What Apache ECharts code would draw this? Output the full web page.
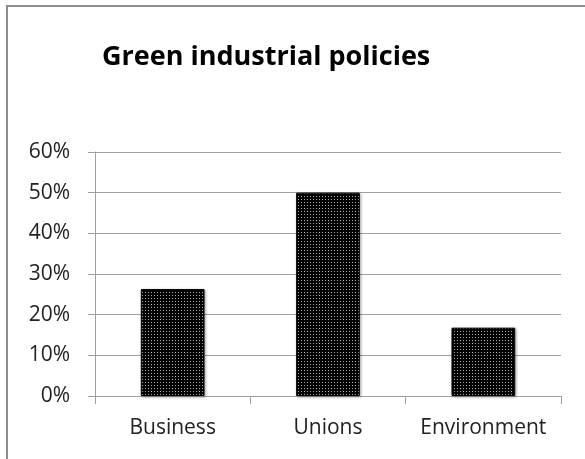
<!DOCTYPE html>
<html>
<head>
<meta charset="utf-8">
<script src="https://cdn.jsdelivr.net/npm/echarts@6/dist/echarts.min.js"></script>
<style>html,body{margin:0;padding:0;background:#fff}#c{width:585px;height:459px}</style>
</head>
<body>
<div id="c"></div>
<script>
const categories = ['Business', 'Unions', 'Environment'];
const values = [0.263, 0.50, 0.168];
const yTicks = [0, 0.1, 0.2, 0.3, 0.4, 0.5, 0.6];

function makePattern() {
  const c = document.createElement('canvas');
  c.width = 3; c.height = 3;
  const g = c.getContext('2d');
  g.fillStyle = '#000';
  g.fillRect(0, 0, 3, 3);
  g.fillStyle = '#b0b0b0';
  g.fillRect(1, 1, 1, 1);
  return c;
}

const chart = echarts.init(document.getElementById('c'), null, {renderer: 'canvas'});
chart.setOption({
  animation: false,
  title: {
    text: 'Green industrial policies',
    left: 97,
    top: 39,
    textStyle: {fontFamily: 'Open Sans', fontWeight: 'bold', fontSize: 27, color: '#000'}
  },
  graphic: [{
    type: 'rect',
    shape: {x: 7, y: 6, width: 800, height: 800},
    style: {fill: 'none', stroke: '#8c8c8c', lineWidth: 2}
  }],
  grid: {left: 95, right: 24, top: 152, bottom: 63},
  xAxis: {
    type: 'category',
    data: categories,
    axisLine: {lineStyle: {color: '#a0a0a0', width: 1}},
    axisTick: {show: true, length: 8, lineStyle: {color: '#a0a0a0'}},
    axisLabel: {fontFamily: 'Open Sans', fontSize: 21, color: '#222', margin: 22,
      interval: 0, hideOverlap: false}
  },
  yAxis: {
    type: 'value',
    min: 0, max: 0.6, interval: 0.1,
    axisLine: {show: true, lineStyle: {color: '#a0a0a0', width: 1}},
    axisTick: {show: true, length: 7, lineStyle: {color: '#a0a0a0'}},
    splitLine: {lineStyle: {color: '#a0a0a0', width: 1}},
    axisLabel: {fontFamily: 'Open Sans', fontSize: 21, color: '#222', margin: 25,
      formatter: v => Math.round(v * 100) + '%'}
  },
  series: [{
    type: 'bar',
    data: values,
    barWidth: '41%',
    itemStyle: {
      color: {image: makePattern(), repeat: 'repeat'},
      borderColor: '#000', borderWidth: 1,
      shadowColor: 'rgba(0,0,0,0.35)', shadowBlur: 3, shadowOffsetX: 1, shadowOffsetY: 1
    }
  }]
});
</script>
</body>
</html>
